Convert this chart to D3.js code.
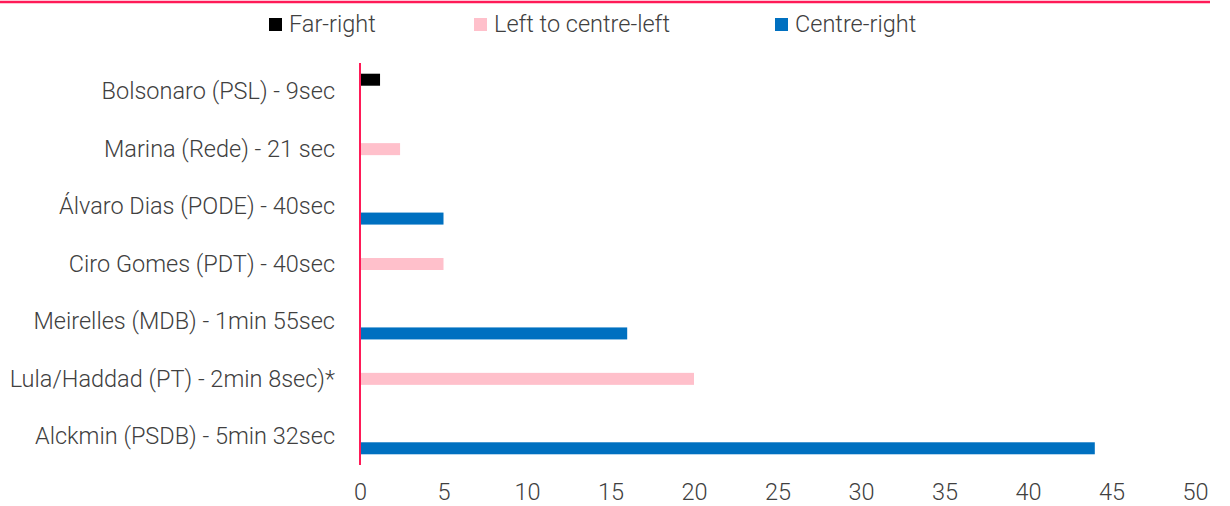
<!DOCTYPE html>
<html>
<head>
<meta charset="utf-8">
<script src="https://cdn.jsdelivr.net/npm/d3@7"></script>
<style>
  html, body { margin: 0; padding: 0; background: #fff; }
  svg { display: block; }
  text { font-family: Roboto, "Noto Sans", sans-serif; font-weight: 300; fill: #404040; }
</style>
</head>
<body>
<svg id="chart" width="1230" height="506"></svg>
<script>
const categories = [
  "Bolsonaro (PSL) - 9sec",
  "Marina (Rede) - 21 sec",
  "Álvaro Dias (PODE) - 40sec",
  "Ciro Gomes (PDT) - 40sec",
  "Meirelles (MDB) - 1min 55sec",
  "Lula/Haddad (PT) - 2min 8sec)*",
  "Alckmin (PSDB) - 5min 32sec"
];
const seriesNames = ["Far-right", "Left to centre-left", "Centre-right"];
const farRight = [1.2, 0, 0, 0, 0, 0, 0];
const leftCentreLeft = [0, 2.4, 0, 5, 0, 20, 0];
const centreRight = [0, 0, 5, 0, 16, 0, 44];
const xTicks = [0, 5, 10, 15, 20, 25, 30, 35, 40, 45, 50];
const colors = ["#000000", "#FFC0CB", "#0070C0"];

const seriesValues = [farRight, leftCentreLeft, centreRight];

const svg = d3.select("#chart");
const fontSize = 23.5;

const x = d3.scaleLinear().domain([0, 50]).range([360, 1195]);
const pad = 0.373;
const y = d3.scaleBand().domain(categories).range([63, 465])
  .paddingInner(pad).paddingOuter(pad / 2);
const ySub = d3.scaleBand().domain(seriesNames).range([0, y.bandwidth()]);

// top rule
svg.append("line")
  .attr("x1", 0).attr("x2", 1210).attr("y1", 2).attr("y2", 2)
  .attr("stroke", "#FF1A57").attr("stroke-width", 2.5);

// bars
seriesNames.forEach((s, si) => {
  svg.append("g").selectAll("rect")
    .data(categories.map((c, i) => ({ c, v: seriesValues[si][i] })).filter(d => d.v > 0))
    .join("rect")
    .attr("x", x(0))
    .attr("y", d => y(d.c) + ySub(s))
    .attr("width", d => x(d.v) - x(0))
    .attr("height", ySub.bandwidth())
    .attr("fill", colors[si]);
});

// category labels
svg.append("g").selectAll("text")
  .data(categories)
  .join("text")
  .attr("x", 335)
  .attr("y", d => y(d) + y.bandwidth() / 2)
  .attr("dy", "0.33em")
  .attr("text-anchor", "end")
  .style("font-size", fontSize + "px")
  .text(d => d);

// vertical axis line
svg.append("line")
  .attr("x1", x(0)).attr("x2", x(0)).attr("y1", 63).attr("y2", 465)
  .attr("stroke", "#FF1A57").attr("stroke-width", 2);

// x axis
const xAxis = svg.append("g")
  .attr("transform", "translate(0,478)")
  .call(d3.axisBottom(x).tickValues(xTicks).tickSize(0).tickPadding(0).tickFormat(d3.format("d")));
xAxis.select(".domain").remove();
xAxis.selectAll("text")
  .attr("dy", "0")
  .attr("y", 22)
  .style("font-size", fontSize + "px")
  .style("font-family", "Roboto, sans-serif")
  .style("font-weight", 300)
  .attr("fill", "#404040");

// legend
const legendX = [269, 474, 775];
const legend = svg.append("g");
seriesNames.forEach((s, i) => {
  legend.append("rect")
    .attr("x", legendX[i]).attr("y", 18).attr("width", 13).attr("height", 13)
    .attr("fill", colors[i]);
  legend.append("text")
    .attr("x", legendX[i] + 20).attr("y", 31.5)
    .style("font-size", fontSize + "px")
    .text(s);
});
</script>
</body>
</html>
